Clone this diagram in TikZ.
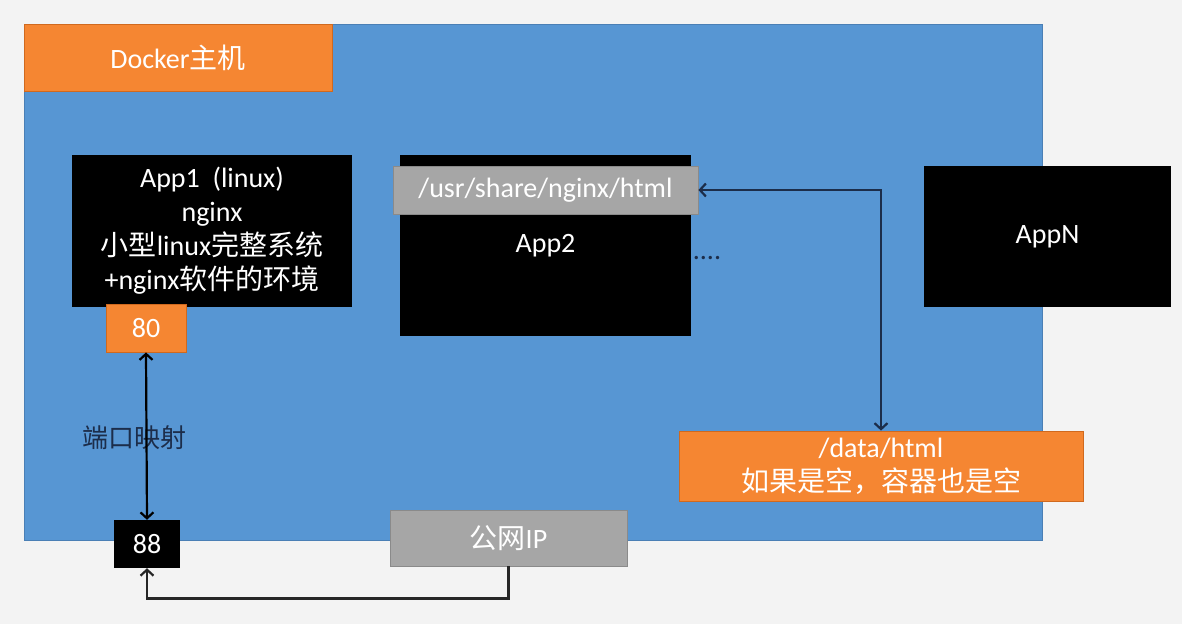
\documentclass[tikz,border=0pt]{standalone}
\usepackage{fontspec}
\setmainfont{Carlito}
\newfontfamily\cjk{Noto Sans CJK SC}
\usetikzlibrary{arrows.meta}
\definecolor{hostblue}{HTML}{5796D3}
\definecolor{hostedge}{HTML}{4A7FB5}
\definecolor{boxorange}{HTML}{F58632}
\definecolor{orangeedge}{HTML}{D0691E}
\definecolor{boxgray}{HTML}{A6A6A6}
\definecolor{grayedge}{HTML}{8A8A8A}
\definecolor{linknavy}{HTML}{1C2D4A}
\definecolor{slidebg}{HTML}{F3F3F3}

\begin{document}
\begin{tikzpicture}[x=1pt, y=-1pt,
	box/.style={inner sep=0pt, align=center, text=white, font=\fontsize{28}{34}\selectfont},
	blackbox/.style={box, fill=black},
	orangebox/.style={box, fill=boxorange, draw=orangeedge, line width=0.8pt},
	graybox/.style={box, fill=boxgray, draw=grayedge, line width=0.8pt},
	link/.style={line width=2.2pt, >={Straight Barb[length=6pt,width=13pt]}}]
		\useasboundingbox[fill=slidebg] (0,0) rectangle (1182,624);
		\draw (533,282) node[box, fill=hostblue, draw=hostedge, line width=0.8pt, minimum width=1018, minimum height=516] (host) {}
		(178,57.5) node[orangebox, minimum width=308, minimum height=67] (title) {Docker{\cjk 主机}}
		(212,231) node[blackbox, minimum width=280, minimum height=152] (app1) {App1\ \ (linux)\\nginx\\{\cjk 小型}linux{\cjk 完整系统}\\+nginx{\cjk 软件的环境}}
		(146,328) node[orangebox, minimum width=80, minimum height=48] (p80) {80}
		(545.5,245.5) node[blackbox, minimum width=291, minimum height=181] (app2) {App2}
		(545.5,190) node[graybox, minimum width=305, minimum height=48] (vol) {/usr/share/nginx/html}
		(707,259) node[anchor=base, inner sep=0pt, text=linknavy, font=\fontsize{28}{34}\selectfont] (dots) {....}
		(1047.5,236.5) node[blackbox, minimum width=247, minimum height=141] (appN) {AppN}
		(881,466) node[orangebox, minimum width=404, minimum height=70] (data) {/data/html\\{\cjk 如果是空，容器也是空}}
		(147,544) node[blackbox, minimum width=66, minimum height=48] (p88) {88}
		(508.5,538) node[graybox, minimum width=237, minimum height=56] (pubip) {{\cjk 公网}IP}
		(134,438) node[inner sep=0pt, text=linknavy, font=\cjk\fontsize{26}{30}\selectfont] (maplabel) {端口映射};

		\draw[link, <->, draw=linknavy] (vol.east) -| (data.north);
		\draw[link, <->, draw=black] (p80.south) -- (p88.north);
		\draw[link, ->, draw=black!85] (pubip.south) -- ++(0,32) -| (p88.south);
	\end{tikzpicture}
\end{document}
